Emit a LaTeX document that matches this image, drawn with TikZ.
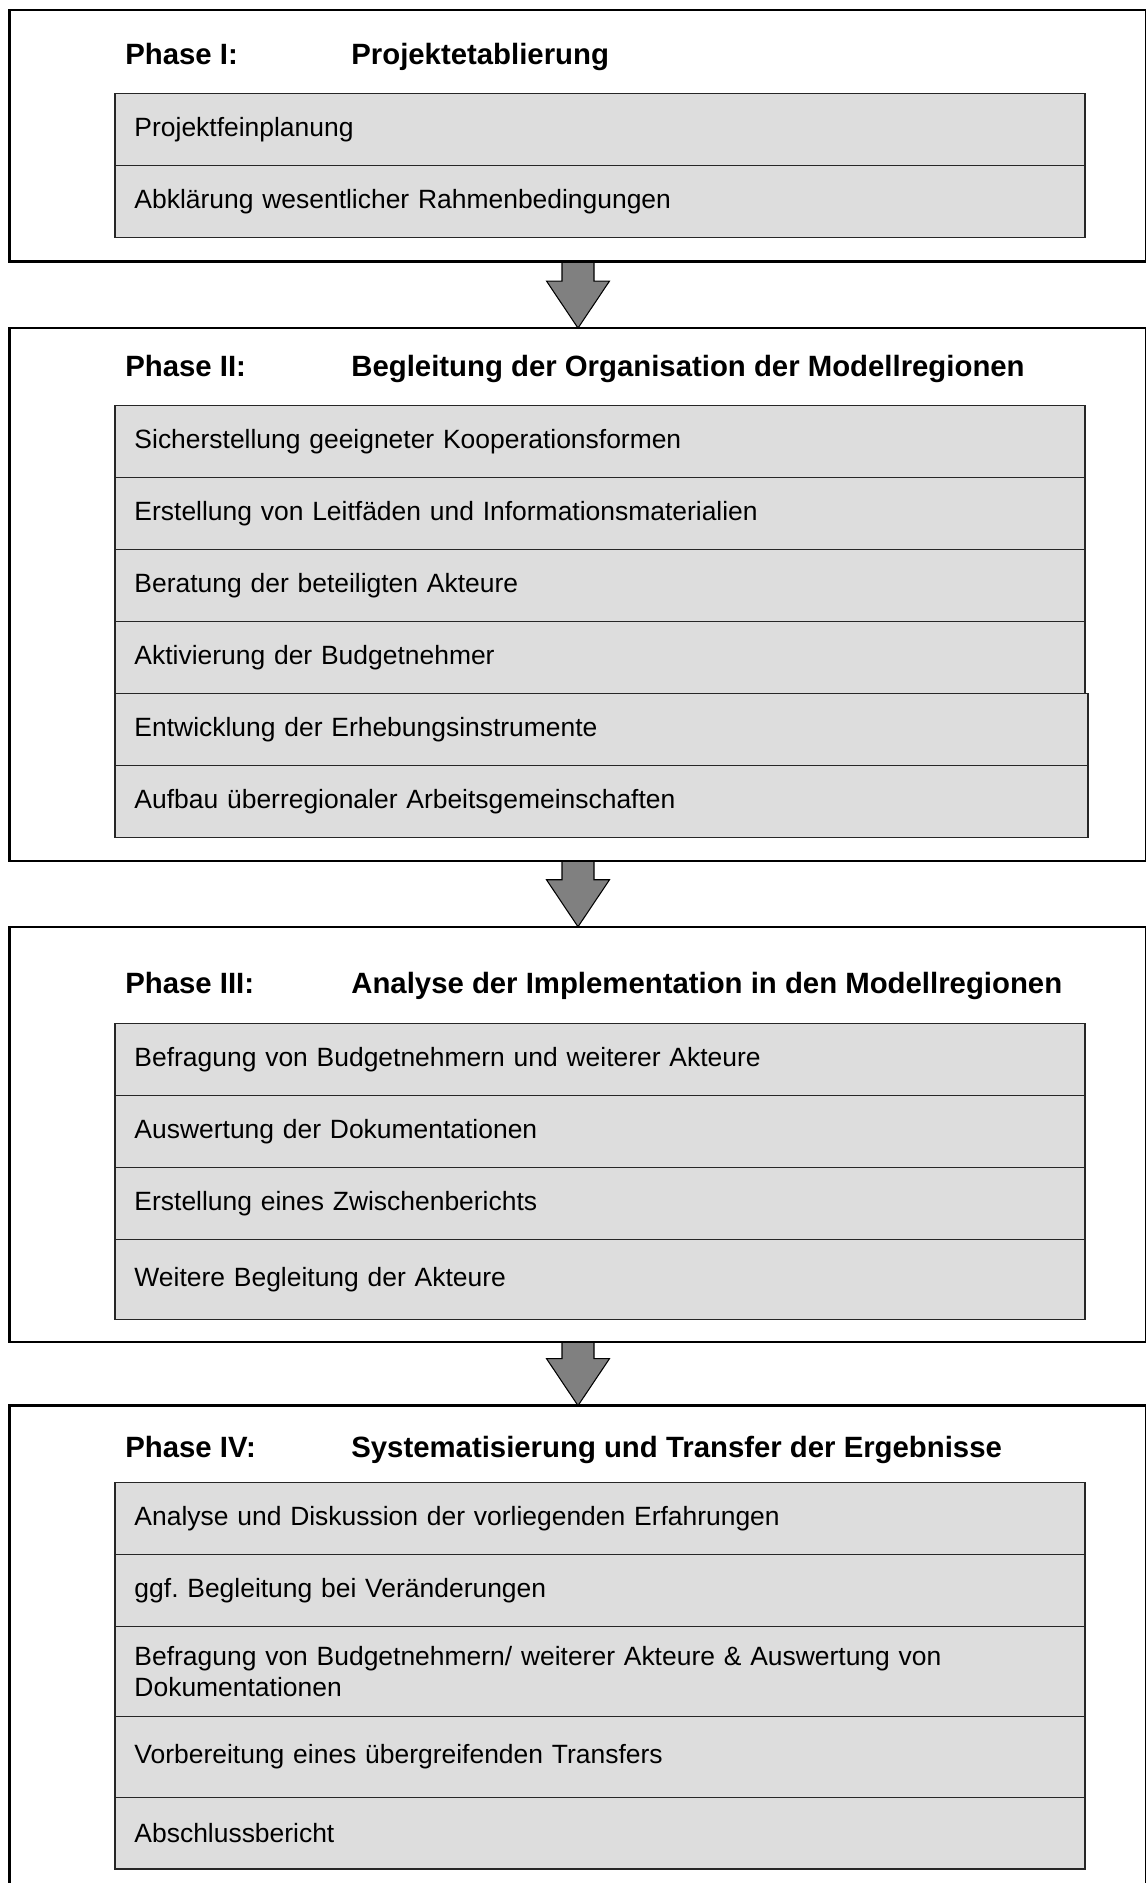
\documentclass[tikz,border=0pt]{standalone}
\usepackage{fontspec}
\setmainfont{Liberation Sans}
\frenchspacing
\usetikzlibrary{positioning, calc, backgrounds}
\definecolor{rowGray}{RGB}{221, 221, 221}
\definecolor{arrowGray}{RGB}{128, 128, 128}
\tikzset{
  phasebox/.style={
    rectangle, draw=black, line width=1.3pt,
    minimum width=22.74cm, inner sep=0pt, outer sep=0pt
  },
  rowbox/.style={
    rectangle, draw=black!85, fill=rowGray, line width=0.8pt,
    text width=18.62cm, inner xsep=0.39cm, inner ysep=0pt,
    minimum height=1.44cm, outer sep=0pt,
    align=left, font=\fontsize{15.05}{17.2}\selectfont
  },
  under/.style={
    below=0pt of #1.south west, anchor=north west
  },
  phaselabel/.style={
    inner sep=0pt, anchor=base west,
    font=\fontsize{16.7}{19}\selectfont\bfseries
  },
  flowarrow/.style={
    draw=black, fill=arrowGray, line width=0.6pt, line join=miter
  }
}

\begin{document}
\begin{tikzpicture}[x=0.02cm, y=-0.02cm]

  \useasboundingbox (0,0) rectangle (1146,1883);

  % phase frames
  \node[phasebox, minimum height=5.03cm]  (ph1) at (578,135.9)  {};
  \node[phasebox, minimum height=10.66cm] (ph2) at (578,594.5)  {};
  \node[phasebox, minimum height=8.30cm]  (ph3) at (578,1134.2) {};
  \node[phasebox, minimum height=9.89cm]  (ph4) at (578,1652.8) {};

  % Phase I
  \node[phaselabel] (t1a) at (125,64) {Phase I:};
  \node[phaselabel] (t1b) at (351,64) {Projektetablierung};

  \node[rowbox, anchor=north west] (r11) at (115,93.3) {Projektfeinplanung};
  \node[rowbox, under=r11] (r12) {Abklärung wesentlicher Rahmenbedingungen};

  % Phase II
  \node[phaselabel] (t2a) at (125,376) {Phase II:};
  \node[phaselabel] (t2b) at (351,376) {Begleitung der Organisation der Modellregionen};

  \node[rowbox, anchor=north west] (r21) at (115,405.5) {Sicherstellung geeigneter Kooperationsformen};
  \node[rowbox, under=r21] (r22) {Erstellung von Leitfäden und Informationsmaterialien};
  \node[rowbox, under=r22] (r23) {Beratung der beteiligten Akteure};
  \node[rowbox, under=r23] (r24) {Aktivierung der Budgetnehmer};
  \node[rowbox, under=r24, text width=18.68cm] (r25) {Entwicklung der Erhebungsinstrumente};
  \node[rowbox, under=r25, text width=18.68cm] (r26) {Aufbau überregionaler Arbeitsgemeinschaften};

  % Phase III
  \node[phaselabel] (t3a) at (125,993) {Phase III:};
  \node[phaselabel] (t3b) at (351,993) {Analyse der Implementation in den Modellregionen};

  \node[rowbox, anchor=north west] (r31) at (115,1023.5) {Befragung von Budgetnehmern und weiterer Akteure};
  \node[rowbox, under=r31] (r32) {Auswertung der Dokumentationen};
  \node[rowbox, under=r32] (r33) {Erstellung eines Zwischenberichts};
  \node[rowbox, under=r33, minimum height=1.6cm] (r34) {Weitere Begleitung der Akteure};

  % Phase IV
  \node[phaselabel] (t4a) at (125,1457) {Phase IV:};
  \node[phaselabel] (t4b) at (351,1457) {Systematisierung und Transfer der Ergebnisse};

  \node[rowbox, anchor=north west] (r41) at (115,1482.5) {Analyse und Diskussion der vorliegenden Erfahrungen};
  \node[rowbox, under=r41, minimum height=1.44cm] (r42) {ggf. Begleitung bei Veränderungen};
  \node[rowbox, under=r42, minimum height=1.8cm] (r43)
    {Befragung von Budgetnehmern/ weiterer Akteure \& Auswertung von\\Dokumentationen};
  \node[rowbox, under=r43, minimum height=1.62cm] (r44) {Vorbereitung eines übergreifenden Transfers};
  \node[rowbox, under=r44, minimum height=1.43cm] (r45) {Abschlussbericht};

  % block arrows between the phases
  \begin{scope}[on background layer]
    \foreach \a/\b in {ph1/ph2, ph2/ph3, ph3/ph4}
      \draw[flowarrow] ($(\a.south)+(-16,0)$) -- ($(\b.north)+(-16,-47)$)
        -- ($(\b.north)+(-31.5,-47)$) -- (\b.north)
        -- ($(\b.north)+(31.5,-47)$) -- ($(\b.north)+(16,-47)$)
        -- ($(\a.south)+(16,0)$);
  \end{scope}

\end{tikzpicture}
\end{document}
